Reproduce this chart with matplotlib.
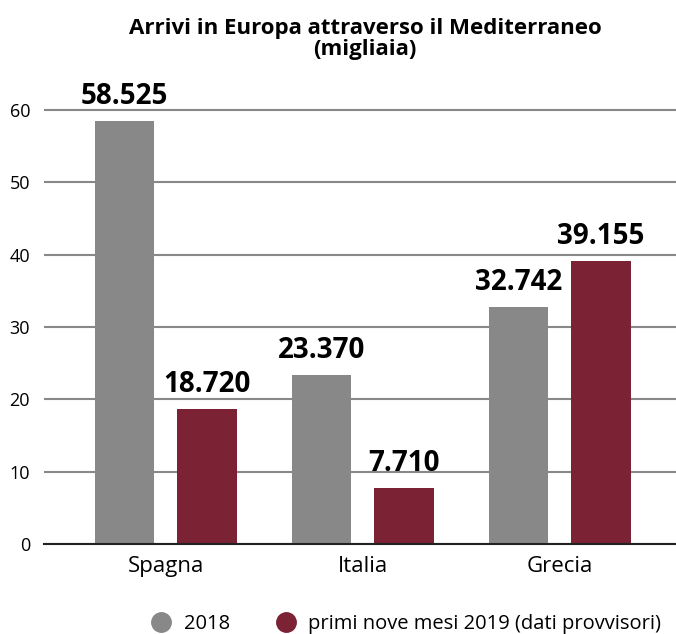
import matplotlib.pyplot as plt
import numpy as np

paesi = ["Spagna", "Italia", "Grecia"]
arrivi_2018 = [58.525, 23.370, 32.742]
arrivi_2019 = [18.720, 7.710, 39.155]
etichette_2018 = ["58.525", "23.370", "32.742"]
etichette_2019 = ["18.720", "7.710", "39.155"]
serie = ["2018", "primi nove mesi 2019 (dati provvisori)"]

grigio = "#888888"
rosso = "#7b2234"
plt.rcParams["font.family"] = ["Open Sans", "DejaVu Sans"]

fig = plt.figure(figsize=(6.76, 6.34), dpi=100)
ax = fig.add_axes([0.065, 0.142, 0.935, 0.730])

x = np.arange(len(paesi))
w = 0.302
off = 0.209
b1 = ax.bar(x - off, arrivi_2018, w, color=grigio, zorder=3, label=serie[0])
b2 = ax.bar(x + off, arrivi_2019, w, color=rosso, zorder=3, label=serie[1])

for bars, labs in [(b1, etichette_2018), (b2, etichette_2019)]:
    for b, t in zip(bars, labs):
        ax.annotate(t, (b.get_x() + b.get_width() / 2, b.get_height()),
                    xytext=(0, 7), textcoords="offset points",
                    ha="center", va="bottom", fontsize=20, fontweight="bold")

ax.set_xlim(-0.619, 2.59)
ax.set_ylim(0, 64)
ax.set_yticks(range(0, 70, 10))
ax.set_xticks(x)
ax.set_xticklabels(paesi, fontsize=16)
ax.tick_params(axis="y", labelsize=13, length=0, pad=10)
ax.tick_params(axis="x", length=0, pad=9)
ax.grid(axis="y", color=grigio, linewidth=1.5, zorder=0)
for s in ["top", "right", "left"]:
    ax.spines[s].set_visible(False)
ax.spines["bottom"].set_color("#222222")
ax.spines["bottom"].set_linewidth(1.5)
ax.spines["bottom"].set_zorder(4)

fig.suptitle("Arrivi in Europa attraverso il Mediterraneo\n(migliaia)",
             x=0.54, y=0.972, fontsize=16, fontweight="bold", linespacing=1.0)

fig.legend(handles=[plt.Line2D([], [], marker="o", ls="", color=grigio, markersize=14),
                    plt.Line2D([], [], marker="o", ls="", color=rosso, markersize=14)],
           labels=serie, loc="center left", bbox_to_anchor=(0.212, 0.016), ncol=2,
           borderaxespad=0, frameon=False, fontsize=14.5, handlelength=1.0,
           handletextpad=0.6, columnspacing=2.3)

fig.savefig("out.png", dpi=100)
